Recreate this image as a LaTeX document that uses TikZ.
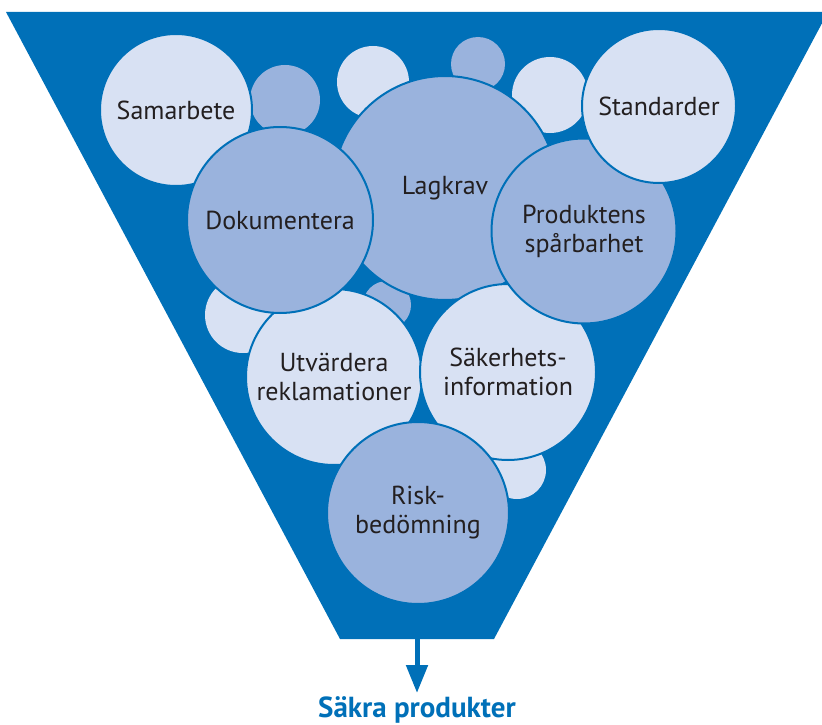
\documentclass[tikz,border=0pt]{standalone}
\usepackage{fontspec}
\setmainfont{PT Sans}
\usetikzlibrary{arrows.meta}
\definecolor{funnelblue}{RGB}{0,112,184}
\definecolor{bubblelight}{RGB}{216,225,243}
\definecolor{bubblemid}{RGB}{154,179,221}
\definecolor{textdark}{RGB}{35,31,32}
\tikzset{bubble/.style={draw=funnelblue, line width=2pt, circle, inner sep=0pt, align=center, text=textdark, font=\fontsize{26}{29}\selectfont},
  lightbubble/.style={bubble, fill=bubblelight},
  midbubble/.style={bubble, fill=bubblemid}}

\begin{document}
\begin{tikzpicture}[x=1pt, y=-1pt]
\useasboundingbox (0,0) rectangle (822,725);
% funnel
\fill[funnelblue] (6,12) -- (828,12) -- (494,639) -- (340,639) -- cycle;
% small bubbles behind
\fill[bubblemid] (285,100) circle (35);
\fill[bubblelight] (373,82) circle (36);
\fill[bubblemid] (478,64) circle (27);
\fill[bubblelight] (550,95) circle (38);
\fill[bubblelight] (243,315) circle (38);
\fill[bubblemid] (387,305) circle (24);
\fill[bubblelight] (517,470) circle (29);
% labelled bubbles
\node[lightbubble, minimum size=152pt] (samarbete) at (176,110) {Samarbete};
\node[midbubble, minimum size=224pt] (lagkrav) at (445,188) {Lagkrav};
\node[lightbubble, minimum size=176pt] (utvardera) at (334,377) {Utvärdera\\reklamationer};
\node[midbubble, minimum size=186pt] (dokumentera) at (280,220) {Dokumentera};
\node[lightbubble, minimum size=176pt] (sakerhet) at (508,372) {Säkerhets-\\information};
\node[midbubble, minimum size=185pt] (sparbarhet) at (584,231) {Produktens\\spårbarhet};
\node[lightbubble, minimum size=154pt] (standarder) at (659,106) {Standarder};
\node[midbubble, minimum size=182pt] (risk) at (418,513) {Risk-\\bedömning};
% output
\coordinate (tip) at (417,639);
\coordinate (arrowend) at (417,693);
\node[font=\bfseries\fontsize{29}{32}\selectfont, text=funnelblue] (safe) at (417,710) {Säkra produkter};
\draw[line width=5pt, funnelblue, -{Triangle[width=21pt,length=28pt]}] (tip) -- (arrowend);
\end{tikzpicture}
\end{document}
